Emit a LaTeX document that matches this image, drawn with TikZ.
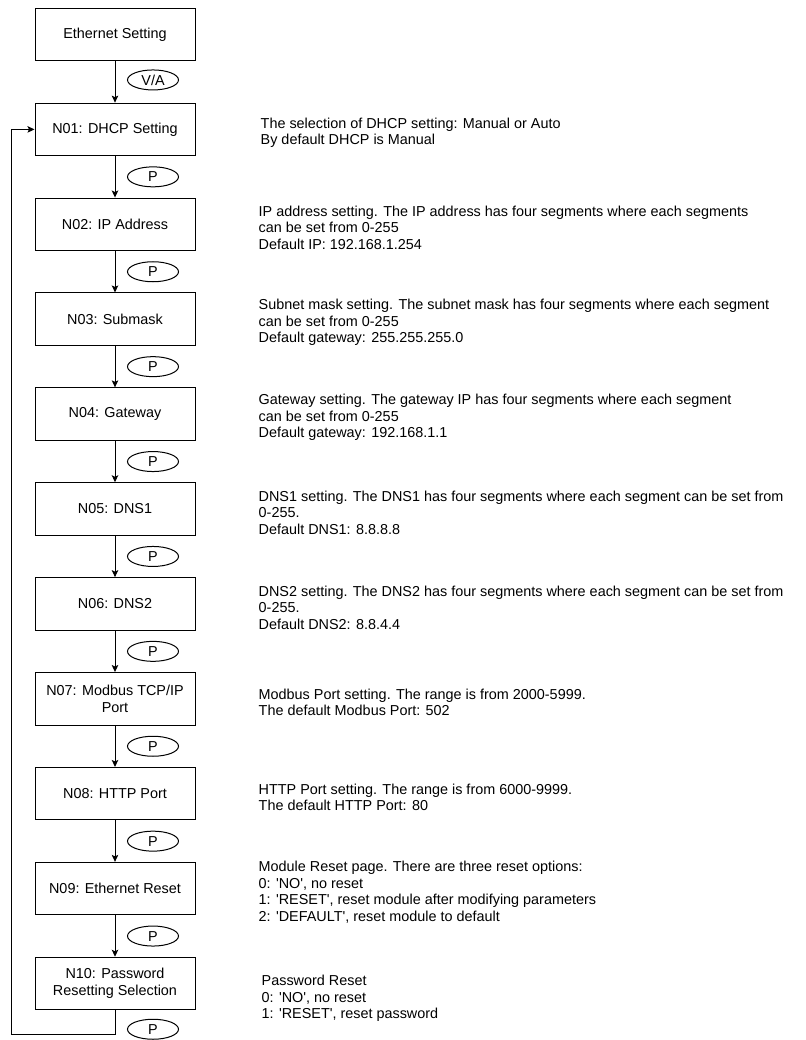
\documentclass[tikz,border=0pt]{standalone}
\usepackage{fontspec}
\setmainfont{Liberation Sans}
\usetikzlibrary{arrows.meta,positioning,shapes.geometric}
\newcommand{\sq}{\textquotesingle}

\begin{document}
\begin{tikzpicture}[
    x=1pt, y=1pt,
    every node/.style={font=\fontsize{14.4}{16.5}\selectfont, text=black},
    menubox/.style={draw, line width=1pt, minimum width=160pt, minimum height=52.5pt, inner sep=2pt, align=center},
    pill/.style={ellipse, draw, line width=1pt, minimum width=51pt, minimum height=20pt, inner sep=0pt},
    desc/.style={align=left, inner sep=0pt},
    flow/.style={line width=1pt, -{Stealth[length=7pt, width=6.5pt, inset=1.5pt]}},
    node distance=41.4pt
]
\useasboundingbox (0,0) rectangle (805,-1040);

\node [menubox] (eth) at (115,-34.5) {Ethernet Setting};
\node [menubox, below=of eth] (n01) {N01: DHCP Setting};
\node [menubox, below=of n01] (n02) {N02: IP Address};
\node [menubox, below=of n02] (n03) {N03: Submask};
\node [menubox, below=of n03] (n04) {N04: Gateway};
\node [menubox, below=of n04] (n05) {N05: DNS1};
\node [menubox, below=of n05] (n06) {N06: DNS2};
\node [menubox, below=of n06] (n07) {N07: Modbus TCP/IP\\Port};
\node [menubox, below=of n07] (n08) {N08: HTTP Port};
\node [menubox, below=of n08] (n09) {N09: Ethernet Reset};
\node [menubox, below=of n09] (n10) {N10: Password\\Resetting Selection};

\node [desc, right=65pt of n01, yshift=-3.5pt] (d01) {The selection of DHCP setting: Manual or Auto\\By default DHCP is Manual};
\node [desc, right=63pt of n02, yshift=-3.5pt] (d02) {IP address setting. The IP address has four segments where each segments\\can be set from 0-255\\Default IP: 192.168.1.254};
\node [desc, right=63pt of n03, yshift=-3.5pt] (d03) {Subnet mask setting. The subnet mask has four segments where each segment\\can be set from 0-255\\Default gateway: 255.255.255.0};
\node [desc, right=63pt of n04, yshift=-3.5pt] (d04) {Gateway setting. The gateway IP has four segments where each segment\\can be set from 0-255\\Default gateway: 192.168.1.1};
\node [desc, right=63pt of n05, yshift=-3.5pt] (d05) {DNS1 setting. The DNS1 has four segments where each segment can be set from\\0-255.\\Default DNS1: 8.8.8.8};
\node [desc, right=63pt of n06, yshift=-3.5pt] (d06) {DNS2 setting. The DNS2 has four segments where each segment can be set from\\0-255.\\Default DNS2: 8.8.4.4};
\node [desc, right=63pt of n07, yshift=-3.5pt] (d07) {Modbus Port setting. The range is from 2000-5999.\\The default Modbus Port: 502};
\node [desc, right=63pt of n08, yshift=-3.5pt] (d08) {HTTP Port setting. The range is from 6000-9999.\\The default HTTP Port: 80};
\node [desc, right=63pt of n09, yshift=-3.5pt] (d09) {Module Reset page. There are three reset options:\\0: \sq NO\sq, no reset\\1: \sq RESET\sq, reset module after modifying parameters\\2: \sq DEFAULT\sq, reset module to default};
\node [desc, right=66pt of n10, yshift=-15pt] (d10) {Password Reset\\0: \sq NO\sq, no reset\\1: \sq RESET\sq, reset password};

\draw [flow] (eth) -- node [pill, xshift=38pt, yshift=2pt] (pva) {V/A} (n01);
\foreach \a/\b in {n01/n02, n02/n03, n03/n04, n04/n05, n05/n06, n06/n07, n07/n08, n08/n09, n09/n10}
    \draw [flow] (\a) -- node [pill, xshift=38pt] (p\a) {P} (\b);

\node [pill] (pn10) at ([xshift=38pt, yshift=-19pt]n10.south) {P};
\draw [flow] (n10.south) -- ++(0,-24) -| ([xshift=-23pt]n01.west) -- (n01.west);
\end{tikzpicture}
\end{document}
